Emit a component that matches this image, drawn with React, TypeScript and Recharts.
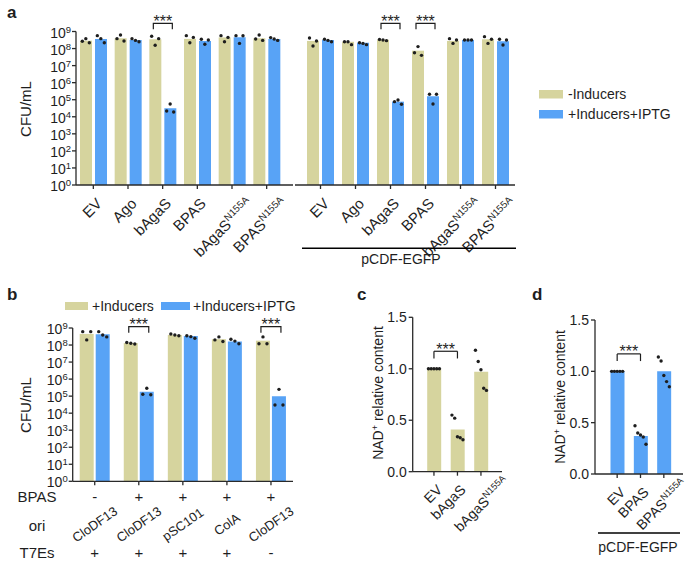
import React from 'react'
import { ComposedChart, Bar, Scatter, XAxis, YAxis, ReferenceLine } from 'recharts'

const FONT = '"Liberation Sans", Arial, Helvetica, sans-serif'
const INK = '#1e1e1e'
const KHAKI = '#D6D49E'
const BLUE = '#58A3F6'
const AXIS = { stroke: '#2a2a2a', strokeWidth: 1.3 }

// ---- panel a: shared categories
const catsA = ['EV', 'Ago', 'bAgaS', 'BPAS', 'bAgaS^N155A', 'BPAS^N155A']

// panel a, left half
const a1Ctrl = [2.9e8, 4.0e8, 3.5e8, 3.7e8, 4.5e8, 4.0e8]
const a1Iptg = [3.6e8, 3.2e8, 3.2e4, 2.8e8, 4.6e8, 3.6e8]
const a1CtrlPts = [
  [2.7e8, 3.8e8, 2.2e8],
  [3.8e8, 6.2e8, 2.8e8],
  [5.3e8, 1.55e8, 3.8e8],
  [5.7e8, 2.2e8, 4.5e8],
  [5.7e8, 2.5e8, 4.5e8],
  [3.6e8, 6.2e8, 3.0e8],
]
const a1IptgPts = [
  [5.7e8, 3.8e8, 2.2e8],
  [3.8e8, 3.0e8, 2.5e8],
  [2.2e4, 5.6e4, 1.9e4],
  [3.5e8, 1.8e8, 3.2e8],
  [5.7e8, 2.0e8, 5.6e8],
  [4.4e8, 3.6e8, 3.0e8],
]
const a1Sig = [false, false, true, false, false, false]

// panel a, right half (pCDF-EGFP)
const a2Ctrl = [2.8e8, 2.5e8, 3.3e8, 7.5e7, 2.8e8, 3.5e8]
const a2Iptg = [3.2e8, 2.2e8, 7.7e4, 1.6e5, 3.2e8, 2.7e8]
const a2CtrlPts = [
  [4.2e8, 1.4e8, 2.8e8],
  [2.5e8, 2.5e8, 1.7e8],
  [3.4e8, 3.2e8, 2.9e8],
  [5.7e7, 1.3e8, 4.0e7],
  [3.8e8, 2.0e8, 3.2e8],
  [5.0e8, 2.0e8, 3.5e8],
]
const a2IptgPts = [
  [3.5e8, 3.0e8, 2.5e8],
  [2.2e8, 2.0e8, 1.7e8],
  [7.7e4, 9.7e4, 5.4e4],
  [2.1e5, 5.6e4, 2.1e5],
  [3.2e8, 3.2e8, 3.2e8],
  [3.5e8, 1.6e8, 3.2e8],
]
const a2Sig = [false, false, true, true, false, false]

// ---- panel b
const bBpas = ['-', '+', '+', '+', '+']
const bOri = ['CloDF13', 'CloDF13', 'pSC101', 'ColA', 'CloDF13']
const bT7 = ['+', '+', '+', '+', '-']
const bCtrl = [4.5e8, 1.3e8, 3.9e8, 2.2e8, 1.8e8]
const bIptg = [4.3e8, 1.8e5, 3.4e8, 1.6e8, 1.0e5]
const bCtrlPts = [
  [6.1e8, 2.0e8, 6.1e8],
  [1.4e8, 1.26e8, 1.15e8],
  [4.4e8, 3.9e8, 3.5e8],
  [2.0e8, 3.0e8, 1.6e8],
  [1.2e8, 3.0e8, 1.2e8],
]
const bIptgPts = [
  [6.1e8, 3.9e8, 3.0e8],
  [1.3e5, 2.9e5, 1.2e5],
  [3.5e8, 3.1e8, 2.5e8],
  [2.2e8, 1.7e8, 1.2e8],
  [3.0e4, 2.5e5, 3.0e4],
]
const bSig = [false, true, false, false, true]

// ---- panel c / d (NAD+)
const catsC = ['EV', 'bAgaS', 'bAgaS^N155A']
const cMean = [1.0, 0.41, 0.97]
const cPts = [
  [1, 1, 1, 1, 1],
  [0.55, 0.52, 0.34, 0.33, 0.31],
  [1.18, 1.07, 0.99, 0.81, 0.79],
]
const catsD = ['EV', 'BPAS', 'BPAS^N155A']
const dMean = [1.0, 0.37, 1.0]
const dPts = [
  [1, 1, 1, 1, 1],
  [0.47, 0.4, 0.38, 0.36, 0.29],
  [1.14, 1.1, 0.96, 0.9, 0.85],
]

const LOG_TICKS = [1, 10, 1e2, 1e3, 1e4, 1e5, 1e6, 1e7, 1e8, 1e9]
const NAD_TICKS = [0, 0.5, 1, 1.5]
const JIT3 = [-3.5, 0, 3.5]
const JIT5 = [-5.5, -2.75, 0, 2.75, 5.5]

type Row = Record<string, string | number | boolean>

const cfuRows = (cats: string[], ctrl: number[], iptg: number[], cp: number[][], ip: number[][], sig: boolean[]) =>
  cats.map((name, i) => {
    const row: Row = { name, ctrl: ctrl[i], iptg: iptg[i], sig: sig[i] }
    cp[i].forEach((v, j) => (row['c' + j] = v))
    ip[i].forEach((v, j) => (row['i' + j] = v))
    return row
  })

const nadRows = (cats: string[], mean: number[], pts: number[][]) =>
  cats.map((name, i) => {
    const row: Row = { name, val: mean[i] }
    pts[i].forEach((v, j) => (row['p' + j] = v))
    return row
  })

const PowTick = (p: any) => {
  const exp = Math.round(Math.log10(p.payload.value))
  return (
    <text x={p.x} y={p.y + 6} textAnchor="end" fontSize={14} fill={INK}>
      10<tspan dy={-5} fontSize={9.5}>{exp}</tspan>
    </text>
  )
}

// rotated category label; "name^sup" gets a superscript
const AngledTick = (p: any) => {
  const fs = p.fontSize || 15
  const [base, sup] = String(p.payload.value).split('^')
  const dx = sup ? p.supDx : 2
  const dy = sup ? p.supDy : 6
  return (
    <g transform={`translate(${p.x + dx},${p.y + dy})`}>
      <text transform="rotate(-45)" textAnchor="end" y={fs * 0.71} fontSize={fs} fill={INK}>
        {base}
        {sup && (
          <tspan dy={-fs * 0.4} fontSize={fs * 0.66}>{sup}</tspan>
        )}
      </text>
    </g>
  )
}

const MatrixTick = (p: any) => {
  const i = p.index
  return (
    <g fill={INK}>
      <text x={p.x} y={p.y + 15} textAnchor="middle" fontSize={15}>{bBpas[i]}</text>
      <g transform={`translate(${p.x},${p.y + 37})`}>
        <text transform="rotate(-35)" textAnchor="middle" dy="0.35em" fontSize={13}>{bOri[i]}</text>
      </g>
      <text x={p.x} y={p.y + 71} textAnchor="middle" fontSize={15}>{bT7[i]}</text>
    </g>
  )
}

const dot = (dx: number) => (p: any) => <circle cx={p.cx + dx} cy={p.cy} r={1.7} fill={INK} />

// khaki bar that also carries the significance bracket to its partner bar
const bracketBar = (gap: number, lift: number) => (p: any) => {
  const { x, y, width, height, fill, payload, background } = p
  const top = background ? background.y : 0
  const by = top - lift
  const x1 = x + width / 2 - 2
  const x2 = x + width * 1.5 + gap + 2
  return (
    <g>
      <rect x={x} y={y} width={width} height={height} fill={fill} />
      {payload && payload.sig && (
        <g>
          <path d={`M${x1},${by + 6}V${by}H${x2}V${by + 6}`} stroke={INK} strokeWidth={1.2} fill="none" />
          <text x={(x1 + x2) / 2} y={by + 3.5} textAnchor="middle" fontSize={16} fill={INK}>***</text>
        </g>
      )}
    </g>
  )
}

const Stars = (p: any) => {
  const vb = p.viewBox || { x: 0, y: 0, width: 0 }
  return (
    <text x={vb.x + vb.width / 2} y={vb.y + 3.5} textAnchor="middle" fontSize={16} fill={INK}>***</text>
  )
}

const CfuChart = (props: {
  rows: Row[]; width: number; height: number; margin: any; padding: any; barSize: number; barGap: number
  showY: boolean; tick: React.ReactElement; xHeight: number; lift: number; jit: number[]
}) => {
  const { rows, width, height, margin, padding, barSize, barGap, showY, tick, xHeight, lift, jit } = props
  const half = (barSize + barGap) / 2
  return (
    <ComposedChart width={width} height={height} data={rows} margin={margin} barSize={barSize} barGap={barGap}>
      <XAxis dataKey="name" interval={0} height={xHeight} padding={padding} tick={tick} tickSize={4} axisLine={AXIS} tickLine={AXIS} />
      <YAxis scale="log" domain={[1, 1e9]} ticks={LOG_TICKS} interval={0} hide={!showY} width={40} tick={<PowTick />} tickSize={4} tickMargin={1} axisLine={AXIS} tickLine={AXIS} />
      <Bar dataKey="ctrl" fill={KHAKI} shape={bracketBar(barGap, lift)} isAnimationActive={false} />
      <Bar dataKey="iptg" fill={BLUE} isAnimationActive={false} />
      {jit.map((j, k) => (
        <Scatter key={'c' + k} dataKey={'c' + k} shape={dot(-half + j)} isAnimationActive={false} />
      ))}
      {jit.map((j, k) => (
        <Scatter key={'i' + k} dataKey={'i' + k} shape={dot(half + j)} isAnimationActive={false} />
      ))}
    </ComposedChart>
  )
}

const NadChart = (props: {
  rows: Row[]; fill: string; width: number; margin: any; padding: any; xHeight: number; from: string; to: string; supDx: number
}) => {
  const { rows, fill, width, margin, padding, xHeight, from, to, supDx } = props
  return (
    <ComposedChart width={width} height={274} data={rows} margin={margin} barSize={14}>
      <XAxis dataKey="name" interval={0} height={xHeight} padding={padding} tick={<AngledTick fontSize={14} supDx={supDx} supDy={-2} />} tickSize={4} axisLine={AXIS} tickLine={AXIS} />
      <YAxis domain={[0, 1.5]} ticks={NAD_TICKS} interval={0} tickFormatter={(v: number) => v.toFixed(1)} width={32} tick={{ fontSize: 14, fill: INK }} tickSize={4} tickMargin={2} axisLine={AXIS} tickLine={AXIS} />
      <Bar dataKey="val" fill={fill} isAnimationActive={false} />
      {JIT5.map((j, k) => (
        <Scatter key={'p' + k} dataKey={'p' + k} shape={dot(j)} isAnimationActive={false} />
      ))}
      <ReferenceLine segment={[{ x: from, y: 1.17 }, { x: to, y: 1.17 }]} stroke={INK} strokeWidth={1.2} label={<Stars />} />
      <ReferenceLine segment={[{ x: from, y: 1.17 }, { x: from, y: 1.1 }]} stroke={INK} strokeWidth={1.2} />
      <ReferenceLine segment={[{ x: to, y: 1.17 }, { x: to, y: 1.1 }]} stroke={INK} strokeWidth={1.2} />
    </ComposedChart>
  )
}

const at = (left: number, top: number): React.CSSProperties => ({ position: 'absolute', left, top })

export default function App() {
  return (
    <div style={{ position: 'absolute', left: 0, top: 0, width: 685, height: 564, background: '#fff', fontFamily: FONT, overflow: 'hidden' }}>
      <div style={at(0, 0)}>
        <CfuChart
          rows={cfuRows(catsA, a1Ctrl, a1Iptg, a1CtrlPts, a1IptgPts, a1Sig)}
          width={295} height={270} margin={{ top: 31.5, right: 2, left: 36, bottom: 0 }}
          padding={{ left: 0, right: 9 }} barSize={12} barGap={3} showY
          tick={<AngledTick fontSize={15} supDx={14} supDy={6} />} xHeight={85} lift={8.2} jit={JIT3}
        />
      </div>
      <div style={at(290, 0)}>
        <CfuChart
          rows={cfuRows(catsA, a2Ctrl, a2Iptg, a2CtrlPts, a2IptgPts, a2Sig)}
          width={230} height={270} margin={{ top: 31.5, right: 5, left: 5, bottom: 0 }}
          padding={{ left: 8, right: 2 }} barSize={12} barGap={3} showY={false}
          tick={<AngledTick fontSize={15} supDx={14} supDy={6} />} xHeight={85} lift={8.2} jit={JIT3}
        />
      </div>
      <div style={at(0, 290)}>
        <CfuChart
          rows={cfuRows(bOri, bCtrl, bIptg, bCtrlPts, bIptgPts, bSig)}
          width={300} height={274} margin={{ top: 38, right: 7, left: 32.7, bottom: 0 }}
          padding={{ left: 0, right: 0 }} barSize={14} barGap={2} showY
          tick={<MatrixTick />} xHeight={82.7} lift={1.3} jit={[-4, 0, 4]}
        />
      </div>
      <div style={at(340, 290)}>
        <NadChart
          rows={nadRows(catsC, cMean, cPts)} fill={KHAKI} width={170}
          margin={{ top: 27.3, right: 8, left: 40.7, bottom: 0 }} padding={{ left: 9.5, right: 9.3 }}
          xHeight={92.3} from="EV" to="bAgaS" supDx={22}
        />
      </div>
      <div style={at(510, 290)}>
        <NadChart
          rows={nadRows(catsD, dMean, dPts)} fill={BLUE} width={175}
          margin={{ top: 30, right: 2, left: 53, bottom: 0 }} padding={{ left: 10.5, right: 7.5 }}
          xHeight={90} from="EV" to="BPAS" supDx={17}
        />
      </div>

      <svg width={685} height={564} style={{ position: 'absolute', left: 0, top: 0, pointerEvents: 'none' }} fill={INK}>
        <g fontWeight="bold" fontSize={17}>
          <text x={7} y={18}>a</text>
          <text x={7} y={300}>b</text>
          <text x={357} y={300}>c</text>
          <text x={532} y={300}>d</text>
        </g>

        <text transform="translate(26,109) rotate(-90)" textAnchor="middle" dy="0.35em" fontSize={15}>CFU/mL</text>
        <text transform="translate(26,405) rotate(-90)" textAnchor="middle" dy="0.35em" fontSize={15}>CFU/mL</text>
        <text transform="translate(378,393) rotate(-90)" textAnchor="middle" dy="0.35em" fontSize={14}>
          NAD<tspan dy={-5} fontSize={9}>+</tspan><tspan dy={5}> relative content</tspan>
        </text>
        <text transform="translate(560,397) rotate(-90)" textAnchor="middle" dy="0.35em" fontSize={14}>
          NAD<tspan dy={-5} fontSize={9}>+</tspan><tspan dy={5}> relative content</tspan>
        </text>

        <rect x={539} y={90} width={24} height={8.5} fill={KHAKI} />
        <text x={568} y={99} fontSize={14}>-Inducers</text>
        <rect x={539} y={110} width={24} height={8.5} fill={BLUE} />
        <text x={568} y={119} fontSize={14}>+Inducers+IPTG</text>

        <rect x={65} y={302} width={23} height={8} fill={KHAKI} />
        <text x={92} y={311} fontSize={14}>+Inducers</text>
        <rect x={161} y={302} width={29} height={8} fill={BLUE} />
        <text x={193} y={311} fontSize={14}>+Inducers+IPTG</text>

        <g fontSize={15} textAnchor="middle">
          <text x={37} y={502}>BPAS</text>
          <text x={37} y={531}>ori</text>
          <text x={37} y={558}>T7Es</text>
        </g>

        <line x1={302} x2={516} y1={248.3} y2={248.3} stroke="#000" strokeWidth={1.6} />
        <text x={401} y={264} textAnchor="middle" fontSize={14}>pCDF-EGFP</text>
        <line x1={598} x2={680} y1={533} y2={533} stroke="#000" strokeWidth={1.6} />
        <text x={638} y={552} textAnchor="middle" fontSize={14}>pCDF-EGFP</text>
      </svg>
    </div>
  )
}
